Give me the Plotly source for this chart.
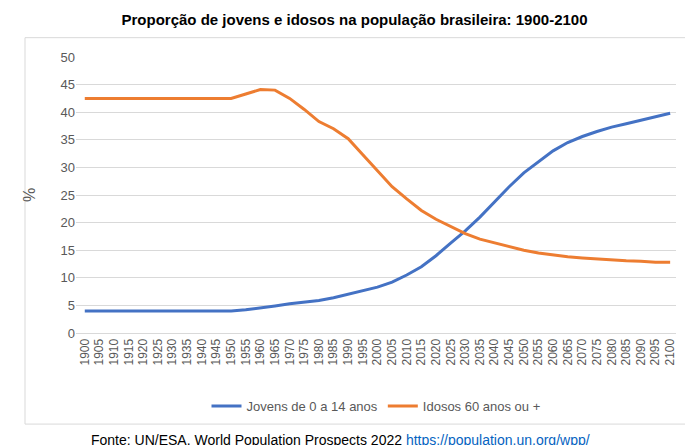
import plotly.graph_objects as go

anos = list(range(1900, 2101, 5))
jovens = [4.0] * 11 + [4.2, 4.5, 4.9, 5.3, 5.6, 5.9, 6.4, 7.0, 7.6, 8.3, 9.2, 10.5, 12.0,
                       14.0, 16.3, 18.5, 21.0, 23.8, 26.5, 29.0, 31.0, 33.0, 34.5, 35.6,
                       36.5, 37.3, 37.9, 38.5, 39.1, 39.8]
idosos = [42.5] * 11 + [43.3, 44.1, 44.0, 42.5, 40.5, 38.3, 37.0, 35.2, 32.3, 29.3, 26.5,
                        24.3, 22.2, 20.6, 19.3, 18.0, 17.0, 16.3, 15.6, 15.0, 14.5, 14.1,
                        13.8, 13.6, 13.4, 13.2, 13.1, 13.0, 12.8, 12.8]

fig = go.Figure()
fig.add_trace(go.Scatter(x=anos, y=jovens, mode="lines", name="Jovens de 0 a 14 anos",
                         line=dict(color="#4472C4", width=3)))
fig.add_trace(go.Scatter(x=anos, y=idosos, mode="lines", name="Idosos 60 anos ou +",
                         line=dict(color="#ED7D31", width=3)))

fig.update_layout(
    width=693, height=445,
    margin=dict(l=68, r=25, t=49, b=120),
    plot_bgcolor="white", paper_bgcolor="white",
    font=dict(family="Liberation Sans, Arial", color="#595959", size=13),
    title=dict(text="<b>Proporção de jovens e idosos na população brasileira: 1900-2100</b>",
               x=0.5, xanchor="center", y=0.985, yanchor="top",
               font=dict(size=15, color="black")),
    legend=dict(orientation="h", x=0.5, xanchor="center", y=-0.21, yanchor="top",
                font=dict(size=13, color="#595959")),
    xaxis=dict(range=[1897, 2102], tickvals=anos, tickangle=-90, showgrid=False,
               showline=True, linecolor="#d9d9d9", ticks="", tickfont=dict(size=12)),
    yaxis=dict(range=[0, 50], dtick=5, gridcolor="#d9d9d9", zeroline=False,
               title=dict(text="%", standoff=20), ticks="", tickfont=dict(size=13)),
    shapes=[dict(type="rect", xref="paper", yref="paper", x0=-0.085, x1=1.035,
                 y0=-0.33, y1=1.07, line=dict(color="#d9d9d9", width=1))],
    annotations=[dict(text="Fonte: UN/ESA. World Population Prospects 2022 "
                           "<a href='https://population.un.org/wpp/' style='color:#0563C1'>"
                           "<u>https://population.un.org/wpp/</u></a>",
                      xref="paper", yref="paper", x=0.44, y=-0.35, xanchor="center",
                      yanchor="top", showarrow=False, font=dict(size=14, color="black"))],
)

fig.write_html("out.html")
